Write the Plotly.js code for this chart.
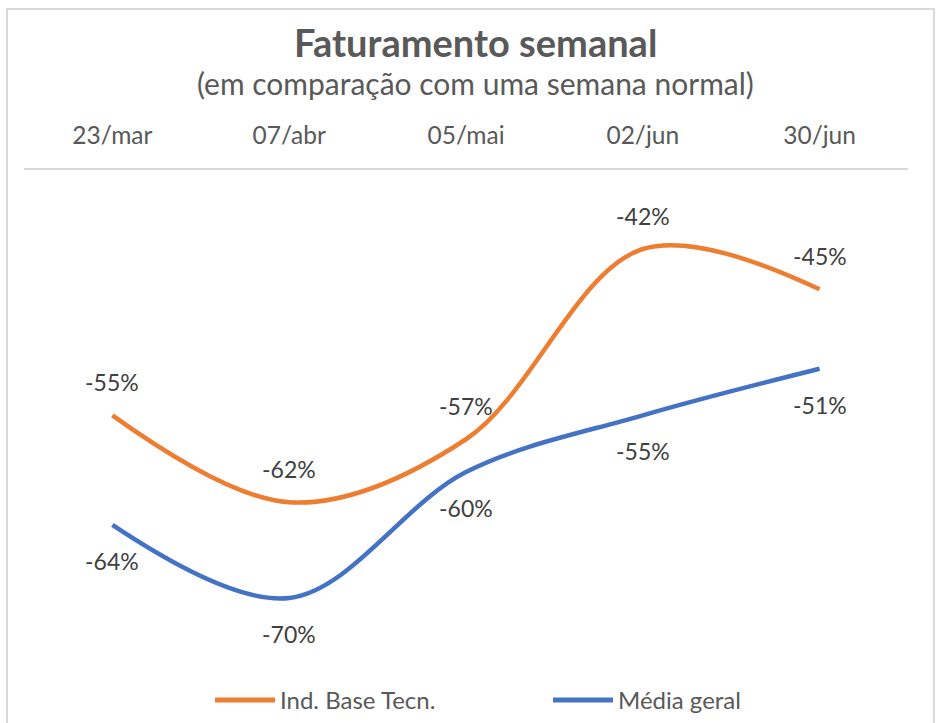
<!DOCTYPE html>
<html>
<head>
<meta charset="utf-8">
<script src="https://cdn.plot.ly/plotly-3.0.1.min.js"></script>
<style>
  html, body { margin: 0; padding: 0; background: #fff; }
  #wrap { position: relative; width: 945px; height: 723px; overflow: hidden; }
  #chart { position: absolute; left: 0; top: 0; width: 945px; height: 723px; }
  #frame { position: absolute; left: 6px; top: 8px; width: 929px; height: 740px;
           border: 2px solid #d9d9d9; pointer-events: none; box-sizing: border-box; }
</style>
</head>
<body>
<div id="wrap">
  <div id="chart"></div>
  <div id="frame"></div>
</div>
<script>
// ---- data ----
const categories = ["23/mar", "07/abr", "05/mai", "02/jun", "30/jun"];
const seriesNames = ["Ind. Base Tecn.", "Média geral"];
const indBaseTecn = [-0.551, -0.620, -0.570, -0.419, -0.451];
const mediaGeral  = [-0.638, -0.696, -0.596, -0.551, -0.514];
const chartTitle = "Faturamento semanal";
const chartSubtitle = "(em comparação com uma semana normal)";

// ---- styles ----
const ORANGE = "#ED7D31";
const BLUE = "#4472C4";
const FONT = "Lato, 'Open Sans', sans-serif";
const TEXT_GRAY = "#595959";
const LABEL_GRAY = "#404040";

const fmt = v => Math.round(v * 100) + "%";

const traces = [
  { x: categories, y: indBaseTecn, name: seriesNames[0], type: "scatter", mode: "lines",
    line: { color: ORANGE, width: 4.5, shape: "spline", smoothing: 1 }, hoverinfo: "skip" },
  { x: categories, y: mediaGeral, name: seriesNames[1], type: "scatter", mode: "lines",
    line: { color: BLUE, width: 4.5, shape: "spline", smoothing: 1 }, hoverinfo: "skip" }
];

const annotations = [];
categories.forEach((c, i) => {
  annotations.push({ x: c, y: indBaseTecn[i], xref: "x", yref: "y", text: fmt(indBaseTecn[i]),
    showarrow: false, yshift: 33, font: { family: FONT, size: 23, color: LABEL_GRAY } });
  annotations.push({ x: c, y: mediaGeral[i], xref: "x", yref: "y", text: fmt(mediaGeral[i]),
    showarrow: false, yshift: -36, font: { family: FONT, size: 23, color: LABEL_GRAY } });
});

// title and subtitle
annotations.push({ xref: "paper", yref: "paper", x: 0.5113, y: 1.2612, xanchor: "center", yanchor: "middle",
  text: "<b>" + chartTitle + "</b>", showarrow: false, font: { family: FONT, size: 38, color: TEXT_GRAY } });
annotations.push({ xref: "paper", yref: "paper", x: 0.5113, y: 1.1776, xanchor: "center", yanchor: "middle",
  text: chartSubtitle, showarrow: false, font: { family: FONT, size: 30, color: TEXT_GRAY } });

// custom legend (long line samples as in the original)
const legendY = -0.0816;
const legendItems = [
  { x0: 0.2161, x1: 0.2839, tx: 0.2873, color: ORANGE, label: seriesNames[0] },
  { x0: 0.5984, x1: 0.6663, tx: 0.6697, color: BLUE, label: seriesNames[1] }
];
const shapes = [];
legendItems.forEach(it => {
  shapes.push({ type: "line", xref: "paper", yref: "paper", x0: it.x0, x1: it.x1, y0: legendY, y1: legendY,
    line: { color: it.color, width: 5 } });
  annotations.push({ xref: "paper", yref: "paper", x: it.tx, y: legendY, xanchor: "left", yanchor: "middle",
    text: it.label, showarrow: false, font: { family: FONT, size: 24, color: TEXT_GRAY } });
});

const layout = {
  width: 945, height: 723,
  margin: { l: 24, r: 37, t: 170, b: 63 },
  paper_bgcolor: "#ffffff", plot_bgcolor: "#ffffff",
  showlegend: false,
  xaxis: {
    type: "category", side: "top", range: [-0.5, 4.5],
    showline: true, linecolor: "#d9d9d9", linewidth: 2,
    showgrid: false, zeroline: false,
    ticks: "outside", ticklen: 14, tickcolor: "rgba(0,0,0,0)",
    tickfont: { family: FONT, size: 24.5, color: TEXT_GRAY }
  },
  yaxis: {
    range: [-0.7452, -0.3563], visible: false, showgrid: false, zeroline: false
  },
  annotations: annotations,
  shapes: shapes
};

Plotly.newPlot("chart", traces, layout, { staticPlot: true, displayModeBar: false });
</script>
</body>
</html>
